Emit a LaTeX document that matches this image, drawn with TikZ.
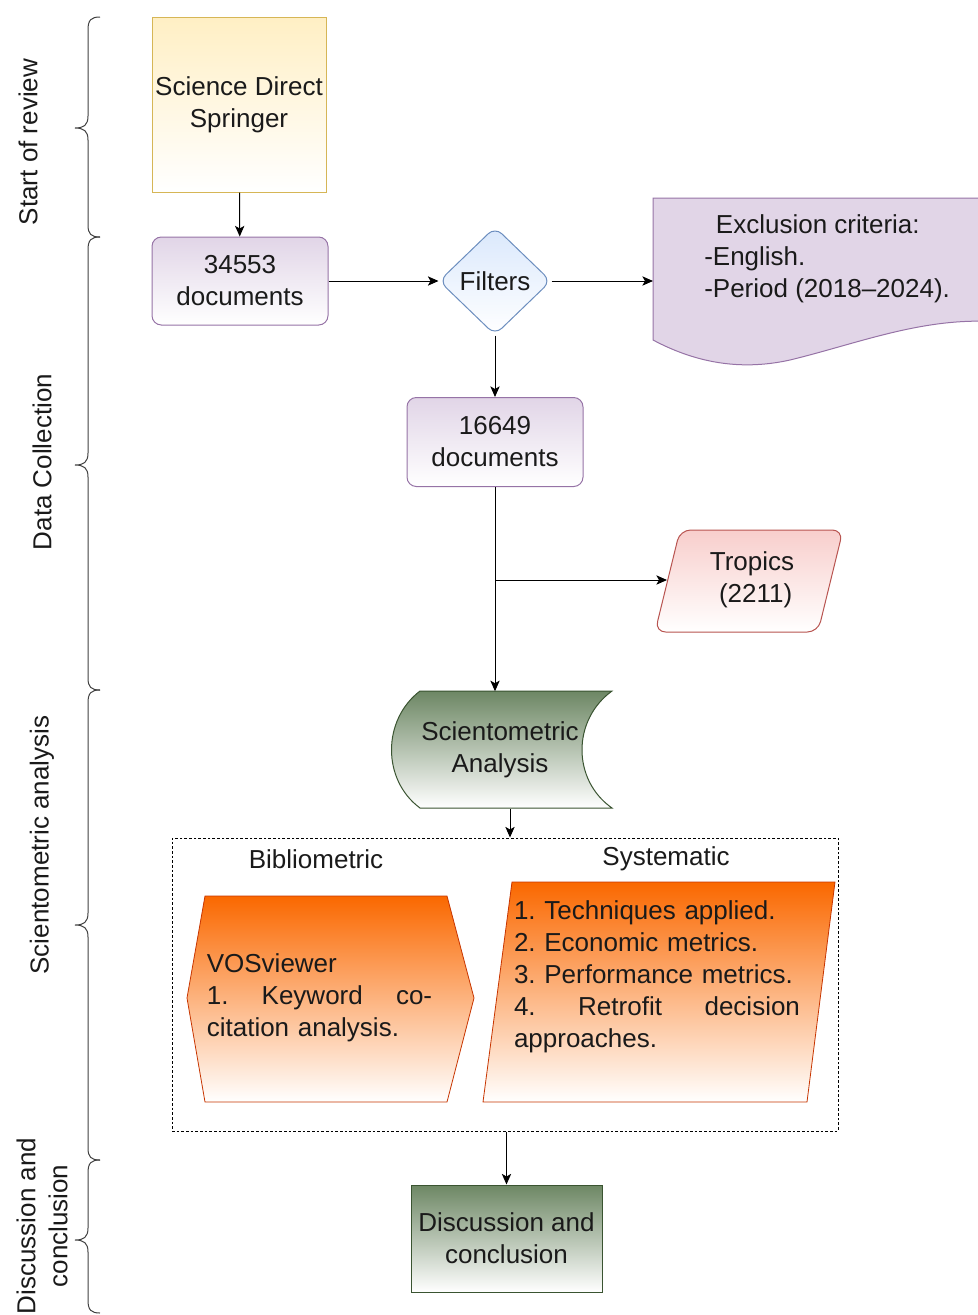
\documentclass[tikz,border=0pt]{standalone}
\usepackage{fontspec}
\setmainfont{Liberation Sans}
\frenchspacing
\usetikzlibrary{shapes.geometric,arrows.meta,calc}
\definecolor{ylw}{HTML}{FFEFC4}
\definecolor{ylwd}{HTML}{D6B656}
\definecolor{pur}{HTML}{E1D5E7}
\definecolor{purd}{HTML}{9673A6}
\definecolor{blu}{HTML}{DAE8FC}
\definecolor{blud}{HTML}{6C8EBF}
\definecolor{rd}{HTML}{F8CECC}
\definecolor{rdd}{HTML}{B85450}
\definecolor{grn}{HTML}{6D8764}
\definecolor{grnd}{HTML}{3A5431}
\definecolor{org}{HTML}{FA6800}
\definecolor{orgd}{HTML}{C73500}
\definecolor{txt}{HTML}{1A1A1A}
\begin{document}
\frenchspacing
\begin{tikzpicture}[x=0.75pt,y=-0.75pt,
  font=\fontsize{19.5}{24}\selectfont\frenchspacing, text=txt,
  conn/.style={line width=0.75pt,-{Stealth[length=8pt,width=7pt,inset=2pt]}},
  plain/.style={line width=0.75pt},
  box/.style={draw,line width=0.75pt,align=center,inner sep=0pt},
  brace/.style={line width=0.75pt,draw=black!75},
  lbl/.style={align=center,inner sep=0pt}]
\useasboundingbox (0,0) rectangle (978,1315);

% ---------- braces ----------
\draw[brace] (100,17) .. controls (91,17) and (88,20) .. (88,30) -- (88,116)
  .. controls (88,125) and (84,128) .. (75,128) .. controls (84,128) and (88,131) .. (88,140)
  -- (88,225) .. controls (88,234) and (91,237) .. (100,237);
\draw[brace] (100,237) .. controls (91,237) and (88,240) .. (88,250) -- (88,453)
  .. controls (88,462) and (84,465) .. (75,465) .. controls (84,465) and (88,468) .. (88,477)
  -- (88,678) .. controls (88,687) and (91,690) .. (100,690);
\draw[brace] (100,690) .. controls (91,690) and (88,693) .. (88,703) -- (88,913)
  .. controls (88,922) and (84,925) .. (75,925) .. controls (84,925) and (88,928) .. (88,937)
  -- (88,1148) .. controls (88,1157) and (91,1160) .. (100,1160);
\draw[brace] (100,1160) .. controls (91,1160) and (88,1163) .. (88,1173) -- (88,1228)
  .. controls (88,1237) and (84,1240) .. (75,1240) .. controls (84,1240) and (88,1243) .. (88,1252)
  -- (88,1300) .. controls (88,1310) and (91,1313) .. (100,1313);

\node[lbl,rotate=90] (lab1) at (28,142) {Start of review};
\node[lbl,rotate=90] (lab2) at (42,462) {Data Collection};
\node[lbl,rotate=90] (lab3) at (42,845) {Scientometric analysis};
\node[lbl,rotate=90] (lab4) at (42,1226) {Discussion and\\conclusion};

% ---------- nodes ----------
\node[box,draw=ylwd,top color=ylw,bottom color=white,
  minimum width=130.5pt,minimum height=131.25pt] (src) at (239,104.5) {Science Direct\\Springer};
\node[box,draw=purd,top color=pur,bottom color=white,rounded corners=7pt,
  minimum width=132pt,minimum height=66pt] (d1) at (240,281) {34553\\documents};
\node[diamond,draw=blud,line width=0.75pt,top color=blu,bottom color=white,
  minimum width=84pt,minimum height=81pt,inner sep=0pt,rounded corners=7pt] (flt) at (495,281) {Filters};

% exclusion document shape
\begin{scope}
\clip (0,0) rectangle (978,1315);
\path[draw=purd,fill=pur,line width=0.75pt] (653,198) -- (1000,198) -- (1000,322)
  .. controls (925,316) and (860,343) .. (790,360)
  .. controls (745,370) and (700,365) .. (653,340) -- cycle;
\end{scope}
\coordinate (exW) at (653,281);
\node[lbl,anchor=west,align=left] (exc) at (704,259) {\hspace*{0.45em}Exclusion criteria:\\-English.\\-Period (2018–2024).};

\node[box,draw=purd,top color=pur,bottom color=white,rounded corners=7pt,
  minimum width=132pt,minimum height=66.75pt] (d2) at (495,442) {16649\\documents};

% tropics parallelogram
\path[draw=rdd,top color=rd,bottom color=white,line width=0.75pt,rounded corners=8pt]
  (680,530) -- (843,530) -- (818,632) -- (655,632) -- cycle;
\node[lbl] (trop) at (752,580) {Tropics\\\ (2211)};
\coordinate (tropW) at (667,580);

% scientometric data storage shape
\path[draw=grnd,top color=grn,bottom color=white,line width=0.75pt]
  (420,691) -- (612,691) .. controls (572,720) and (572,780) .. (612,808)
  -- (420,808) .. controls (382,780) and (382,720) .. (420,691) -- cycle;
\node[lbl,minimum height=87.75pt] (sci) at (500,750) {Scientometric\\Analysis};

% dashed container
\node[draw,line width=0.75pt,dash pattern=on 2pt off 1.5pt,inner sep=0pt,
  minimum width=499.5pt,minimum height=219.75pt] (cont) at (505,984.5) {};
\node[lbl] (bib) at (316,859) {Bibliometric};
\node[lbl] (sys) at (666,859) {Systematic};

% hexagon
\path[draw=orgd,top color=org,bottom color=white,line width=0.6pt]
  (205,896) -- (447,896) -- (474,998) -- (447,1102) -- (205,1102) -- (187,998) -- cycle;
\node[lbl,align=left,text width=169pt] (hex) at (319.5,998)
  {VOSviewer\\\leavevmode\hbox to 169pt{1.\hfill Keyword\hfill co-}\\citation analysis.};

% parallelogram
\path[draw=orgd,top color=org,bottom color=white,line width=0.6pt]
  (512,882) -- (835,882) -- (807,1102) -- (483,1102) -- cycle;
\node[lbl,align=left,text width=214.5pt] (par) at (657,977)
  {1. Techniques applied.\\2. Economic metrics.\\3. Performance metrics.\\\leavevmode\hbox to 214.5pt{4.\hfill Retrofit\hfill decision}\\approaches.};

\node[box,draw=grnd,top color=grn,bottom color=white,
  minimum width=143.25pt,minimum height=80.25pt] (disc) at (506.5,1238.5) {Discussion and\\conclusion};

% ---------- connectors ----------
\draw[conn] (src) -- (d1);
\draw[conn] (d1) -- (flt);
\draw[conn] (flt.east) -- (exW);
\draw[conn] (flt.south) -- (flt.south |- d2.north);
\draw[conn] (d2.south) -- (d2.south |- sci.north);
\draw[conn] (d2.south |- tropW) -- (tropW);
\draw[conn] ([xshift=7.5pt]sci.south) -- ([xshift=7.5pt]sci.south |- cont.north);
\draw[conn] (cont.south -| disc.north) -- (disc.north);
\end{tikzpicture}
\end{document}
